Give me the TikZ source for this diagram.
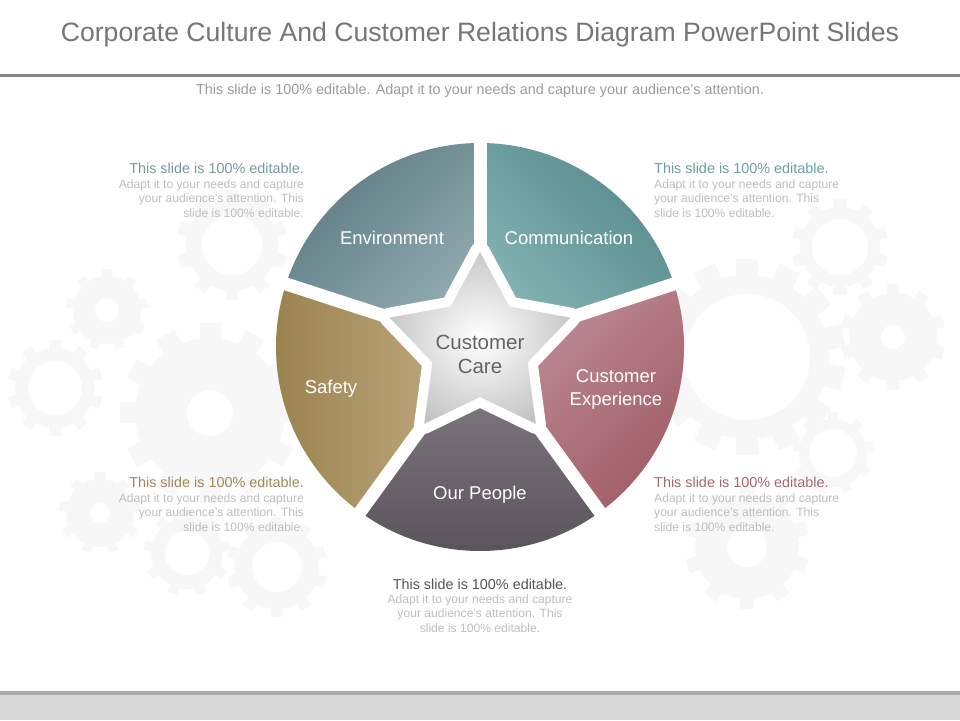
\documentclass[tikz,border=0pt]{standalone}
\usepackage{fontspec}
\setmainfont{Liberation Sans}
\usetikzlibrary{math, positioning}
\definecolor{titlegray}{RGB}{118,118,118}
\definecolor{subgray}{RGB}{155,155,155}
\definecolor{notegray}{RGB}{190,190,190}
\definecolor{linegray}{RGB}{136,136,136}
\definecolor{bandgray}{RGB}{217,217,217}
\definecolor{banddark}{RGB}{171,171,171}
\definecolor{gearcol}{RGB}{247,247,247}
\definecolor{caretext}{RGB}{100,100,100}
\definecolor{envDark}{RGB}{93,123,131}
\definecolor{envLight}{RGB}{148,174,179}
\definecolor{comDark}{RGB}{88,137,140}
\definecolor{comLight}{RGB}{134,182,181}
\definecolor{expLight}{RGB}{192,144,154}
\definecolor{expDark}{RGB}{160,92,102}
\definecolor{pplLight}{RGB}{137,128,137}
\definecolor{pplDark}{RGB}{87,81,90}
\definecolor{safDark}{RGB}{152,128,76}
\definecolor{safLight}{RGB}{196,174,132}
\definecolor{envHead}{RGB}{120,152,160}
\definecolor{comHead}{RGB}{108,158,160}
\definecolor{safHead}{RGB}{160,136,90}
\definecolor{expHead}{RGB}{166,102,112}
\definecolor{pplHead}{RGB}{85,85,85}
\pgfdeclareradialshading{starshade}{\pgfpoint{0bp}{0bp}}{color(0bp)=(white); color(6bp)=(white!95!black); color(28bp)=(black!24); color(50bp)=(black!47)}
\tikzset{
  pics/gear/.style n args={3}{code={
    \fill[gearcol] (0,0) circle(#1);
    \foreach \k in {1,...,#3}
      \fill[gearcol, rotate=\k*360/#3] (-0.14*#1,0) rectangle (0.14*#1,1.2*#1);
    \fill[white] (0,0) circle(#2);
  }},
  seglabel/.style={text=white, font=\fontsize{18.5}{23}\selectfont, align=center},
  notehead/.style={inner sep=0pt, font=\fontsize{14.4}{17}\selectfont},
  notebody/.style={inner sep=0pt, text=notegray, font=\fontsize{12.1}{14.5}\selectfont},
}

\begin{document}
\begin{tikzpicture}[x=1pt, y=1pt]

\tikzmath{
\R = 204; %wheel
\so = 95; %star tips
\si = 50; %star notches
\gap = 13;
}

\useasboundingbox (0,0) rectangle (960,720);

%background gears:
\foreach \gx/\gy/\gr/\gh/\gn in {747/363/82/63/14, 840/473/40/28/10, 893/383/44/12/10,
  833/267/34/24/9, 747/173/52/20/10, 55/332/40/27/10, 107/410/34/12/9, 210/307/75/23/12,
  100/207/34/10/9, 187/167/36/22/9, 277/153/42/25/10, 232/475/46/30/10}
  \pic at (\gx,\gy) {gear={\gr}{\gh}{\gn}};

%header:
\node[anchor=base, text=titlegray, font=\fontsize{26.6}{30}\selectfont] (title) at (480,678.5)
  {Corporate Culture And Customer Relations Diagram PowerPoint Slides};
\draw[linegray, line width=3] (0,644) -- (960,644);
\node[anchor=base, text=subgray, font=\fontsize{14.4}{17}\selectfont] (subtitle) at (480,625)
  {This slide is 100\% editable. Adapt it to your needs and capture your audience’s attention.};

%footer:
\fill[bandgray] (0,0) rectangle (960,25);
\fill[banddark] (0,25) rectangle (960,29);

%wheel:
\begin{scope}[shift={(480,373)}]
\shade[top color=comDark, bottom color=comLight, shading angle=-45] (0,0) -- (18:\R) arc (18:90:\R) -- cycle;
\shade[top color=envDark, bottom color=envLight, shading angle=45] (0,0) -- (90:\R) arc (90:162:\R) -- cycle;
\shade[top color=safDark, bottom color=safLight, shading angle=90] (0,0) -- (162:\R) arc (162:234:\R) -- cycle;
\shade[top color=pplLight, bottom color=pplDark] (0,0) -- (234:\R) arc (234:306:\R) -- cycle;
\shade[top color=expLight, bottom color=expDark, shading angle=45] (0,0) -- (306:\R) arc (306:378:\R) -- cycle;
%gaps
\foreach \a in {18,90,162,234,306}
  \draw[white, line width=\gap] (0,0) -- (\a:{\R+2});
\draw[white, fill=white, line width=20, line join=round] (90:\so) -- (126:\si) -- (162:\so) -- (198:\si)
  -- (234:\so) -- (270:\si) -- (306:\so) -- (342:\si) -- (18:\so) -- (54:\si) -- cycle;
%star
\shade[shading=starshade] (90:\so) -- (126:\si) -- (162:\so) -- (198:\si)
  -- (234:\so) -- (270:\si) -- (306:\so) -- (342:\si) -- (18:\so) -- (54:\si) -- cycle;
\end{scope}

%labels
\node[seglabel, anchor=base] (env) at (392,475.4) {Environment};
\node[seglabel, anchor=base] (comm) at (569,475.4) {Communication};
\node[seglabel, anchor=base] (safety) at (331,326.4) {Safety};
\node[seglabel] (custexp) at (616,330.5) {Customer\\Experience};
\node[seglabel, anchor=base] (people) at (480,220.4) {Our People};
\node[text=caretext, font=\fontsize{20.5}{24}\selectfont, align=center] (care) at (480,366) {Customer\\Care};

%notes
\node[notehead, text=envHead, anchor=base east] (envHead) at (304,546) {This slide is 100\% editable.};
\node[notebody, align=right, below left=5.3pt and 0pt of envHead.base east] (envBody)
  {Adapt it to your needs and capture\\your audience’s attention. This\\slide is 100\% editable.};
\node[notehead, text=comHead, anchor=base west] (comHead) at (654,546) {This slide is 100\% editable.};
\node[notebody, align=left, below right=5.3pt and 0pt of comHead.base west] (comBody)
  {Adapt it to your needs and capture\\your audience’s attention. This\\slide is 100\% editable.};
\node[notehead, text=safHead, anchor=base east] (safHead) at (304,232) {This slide is 100\% editable.};
\node[notebody, align=right, below left=5.3pt and 0pt of safHead.base east] (safBody)
  {Adapt it to your needs and capture\\your audience’s attention. This\\slide is 100\% editable.};
\node[notehead, text=expHead, anchor=base west] (expHead) at (654,232) {This slide is 100\% editable.};
\node[notebody, align=left, below right=5.3pt and 0pt of expHead.base west] (expBody)
  {Adapt it to your needs and capture\\your audience’s attention. This\\slide is 100\% editable.};
\node[notehead, text=pplHead, anchor=base] (pplHead) at (480,131) {This slide is 100\% editable.};
\node[notebody, align=center, below=5.3pt of pplHead.base] (pplBody)
  {Adapt it to your needs and capture\\your audience’s attention. This\\slide is 100\% editable.};

\end{tikzpicture}
\end{document}
